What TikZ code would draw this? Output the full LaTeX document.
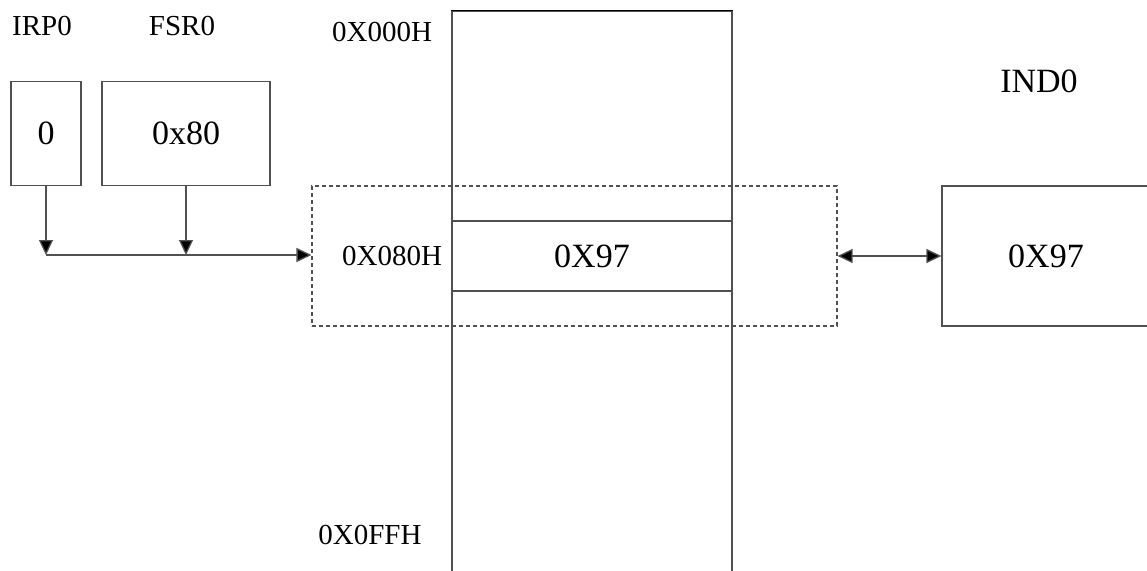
\documentclass[tikz,border=0pt]{standalone}
\usepackage{fontspec}
\setmainfont{Liberation Serif}
\usetikzlibrary{arrows.meta}
\definecolor{linegray}{HTML}{505050}
\tikzset{
  box/.style={draw=linegray, line width=1.3pt, inner sep=0pt, fill=none},
  dashbox/.style={draw=linegray, line width=1.1pt, dash pattern=on 4pt off 3pt, inner sep=0pt},
  lbl/.style={inner sep=0pt, font=\fontsize{29pt}{31pt}\selectfont},
  big/.style={font=\fontsize{34pt}{36pt}\selectfont},
  conn/.style={draw=linegray, line width=1.3pt, -{Triangle[length=15pt,width=14pt,fill=black]}},
  dconn/.style={draw=linegray, line width=1.3pt, {Triangle[length=15pt,width=14pt,fill=black]}-{Triangle[length=15pt,width=14pt,fill=black]}}
}
\begin{document}
\begin{tikzpicture}[x=1pt,y=-1pt]
\useasboundingbox (0,0) rectangle (1147,570);
\clip (0,0) rectangle (1147,570);
% labels
\node[lbl] (irplbl) at (42,26) {IRP0};
\node[lbl] (fsrlbl) at (182,26) {FSR0};
\node[lbl] (a000) at (382,32) {0X000H};
\node[lbl] (a080) at (392,256) {0X080H};
\node[lbl] (a0ff) at (370,535) {0X0FFH};
\node[lbl,big] (indlbl) at (1039,81) {IND0};
% memory column
\node[box, minimum width=280pt, minimum height=589pt] (mem) at (592,305.5) {};
\draw[black, line width=1.3pt] (mem.north west) -- (mem.north east);
% register boxes
\node[box, big, minimum width=70pt, minimum height=104pt] (irp) at (46,133.5) {0};
\node[box, big, minimum width=168pt, minimum height=104pt] (fsr) at (186,133.5) {0x80};
% dashed selection
\node[dashbox, minimum width=525pt, minimum height=140pt] (sel) at (574.5,256) {};
% addressed cell
\node[box, big, minimum width=280pt, minimum height=70pt] (cell) at (592,256) {0X97};
% IND0 box
\node[box, big, minimum width=208pt, minimum height=140pt] (ind) at (1046,256) {0X97};
% connectors
\coordinate (j1) at (46,255);
\draw[conn] (irp.south) -- (j1);
\draw[conn] (fsr.south) -- (fsr.south |- j1);
\draw[conn] (j1) -- (sel.west |- j1);
\draw[dconn] (sel.east) -- (ind.west);
\end{tikzpicture}
\end{document}
